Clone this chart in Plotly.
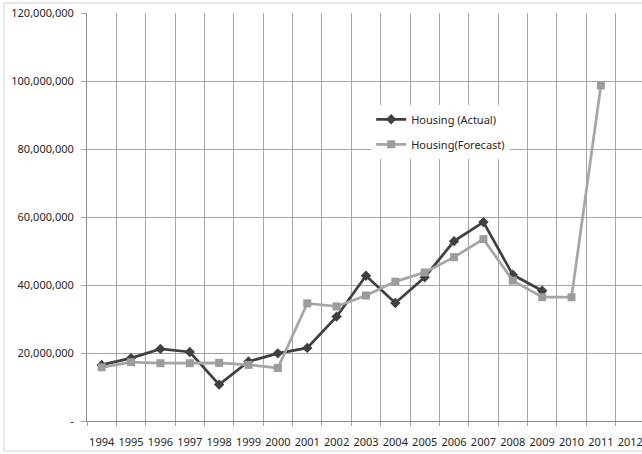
import plotly.graph_objects as go

# Housing completions: actual vs forecast, 1994-2012
years = [str(y) for y in range(1994, 2013)]
actual = [16.5e6, 18.5e6, 21.2e6, 20.3e6, 10.7e6, 17.5e6, 19.9e6, 21.5e6, 30.7e6,
          42.7e6, 34.7e6, 42.3e6, 52.9e6, 58.5e6, 43.0e6, 38.3e6, None, None, None]
forecast = [15.8e6, 17.3e6, 17.0e6, 17.0e6, 17.1e6, 16.5e6, 15.6e6, 34.6e6, 33.7e6,
            36.9e6, 41.0e6, 43.7e6, 48.2e6, 53.5e6, 41.3e6, 36.4e6, 36.4e6, 98.7e6, None]

y_tickvals = [0, 20e6, 40e6, 60e6, 80e6, 100e6, 120e6]
y_ticktext = ["-", "20,000,000", "40,000,000", "60,000,000", "80,000,000",
              "100,000,000", "120,000,000"]

W, H = 642, 454
ML, MR, MT, MB = 87, 0, 13, 33

FONT = "Noto Sans"
TXT = "#262626"
GRID = "#A6A6A6"

fig = go.Figure()
fig.add_trace(go.Scatter(
    x=years, y=actual, name="Housing (Actual)", mode="lines+markers",
    line=dict(color="#404040", width=2.75),
    marker=dict(symbol="diamond", size=8, color="#404040"),
    legendgroup="a",
))
fig.add_trace(go.Scatter(
    x=years, y=forecast, name="Housing(Forecast)", mode="lines+markers",
    line=dict(color="#A6A6A6", width=2.75),
    marker=dict(symbol="square", size=8, color="#9C9C9C"),
    legendgroup="f",
))

# outer chart-area border
pw = W - ML - MR
ph = H - MT - MB
fig.add_shape(type="rect", xref="paper", yref="paper",
              x0=(4 - ML) / pw, x1=(W + 5 - ML) / pw,
              y0=(H - MB - 451) / ph, y1=(H - MB - 3) / ph,
              line=dict(color="#D0D0D0", width=1), fillcolor="rgba(0,0,0,0)",
              layer="below")

fig.update_layout(
    width=W, height=H,
    margin=dict(l=ML, r=MR, t=MT, b=MB, pad=0, autoexpand=False),
    paper_bgcolor="white", plot_bgcolor="white",
    font=dict(family=FONT, size=11, color=TXT),
    showlegend=True,
    legend=dict(
        x=0.512, y=0.775, xanchor="left", yanchor="top",
        bgcolor="white", borderwidth=0,
        font=dict(family=FONT, size=11, color=TXT),
        itemwidth=30, tracegroupgap=6, traceorder="grouped",
    ),
    xaxis=dict(
        type="category", range=[-0.5, 18.4], automargin=False,
        tickson="boundaries", ticks="outside", ticklen=4, tickcolor=GRID,
        showgrid=True, gridcolor=GRID, gridwidth=1,
        showline=True, linecolor="#8C8C8C", linewidth=1,
        tickangle=0, ticklabelstandoff=11, ticklabeloverflow="allow",
        tickfont=dict(family=FONT, size=11, color=TXT),
        fixedrange=True,
    ),
    yaxis=dict(
        range=[0, 120e6], tickvals=y_tickvals, ticktext=y_ticktext,
        automargin=False,
        ticks="outside", ticklen=5, tickcolor=GRID,
        showgrid=True, gridcolor=GRID, gridwidth=1,
        showline=True, linecolor="#8C8C8C", linewidth=1,
        zeroline=False, ticklabelstandoff=5,
        tickfont=dict(family=FONT, size=11, color=TXT),
        fixedrange=True,
    ),
)

fig.write_html("out.html")
